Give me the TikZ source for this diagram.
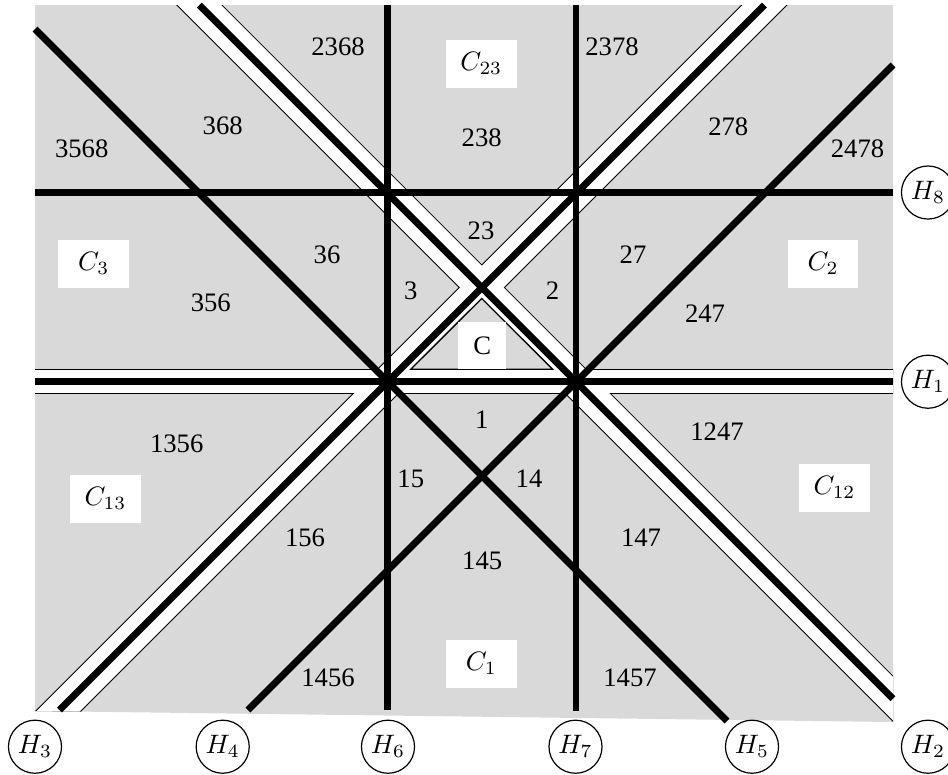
\documentclass[tikz,border=0pt]{standalone}
\usepackage{fontspec}
\setmainfont{Liberation Serif}
\usetikzlibrary{calc}
\definecolor{cellgray}{RGB}{217,217,217}
\begin{document}
\begin{tikzpicture}[x=0.375pt,y=-0.375pt,
  wall/.style={line width=2.6pt, line cap=butt},
  bandedge/.style={draw=black, line width=#1, line cap=butt, shorten <=-30pt, shorten >=-30pt},
  bandfill/.style={draw=white, line width=#1, line cap=butt, shorten <=-30pt, shorten >=-30pt},
  cbox/.style={fill=white, inner sep=0pt, minimum width=26.5pt, minimum height=17.9pt},
  sbox/.style={fill=white, inner sep=0pt, minimum width=17.9pt, minimum height=17.9pt},
  lab/.style={inner sep=0pt},
  hcirc/.style={draw, circle, line width=0.45pt, minimum size=19.9pt, inner sep=0pt}
]
\useasboundingbox (0,0) rectangle (948,774);
\clip (0,0) rectangle (948,774);

% frame corners
\coordinate (tl) at (35,5);
\coordinate (tr) at (893,5);
\coordinate (br) at (893,722);
\coordinate (bl) at (35,711);

% line end points
\coordinate (h1a) at (35,381.7);   \coordinate (h1b) at (893,381.7);
\coordinate (h8a) at (35,192.5);   \coordinate (h8b) at (893,192.5);
\coordinate (h6a) at (387.7,5);    \coordinate (h6b) at (387.7,710);
\coordinate (h7a) at (576,5);      \coordinate (h7b) at (576,710.5);
\coordinate (h3a) at (59.4,710);   \coordinate (h3b) at (764.4,5);
\coordinate (h2a) at (199.3,5);    \coordinate (h2b) at (893,698.7);
\coordinate (h4a) at (248,710);    \coordinate (h4b) at (893,65);
\coordinate (h5a) at (35,29);      \coordinate (h5b) at (727,721);

% chamber C
\coordinate (ca) at (410.7,369.3);
\coordinate (cb) at (552.7,369.3);
\coordinate (cc) at (481.7,298.5);

% gray background
\fill[cellgray] (tl) -- (tr) -- (br) -- (bl) -- cycle;

\begin{scope}
  \clip (tl) -- (tr) -- (br) -- (bl) -- cycle;
  % walls of C: bordered white bands
  \draw[bandedge=9.375pt] (h1a) -- (h1b);
  \draw[bandedge=12.3pt] (h3a) -- (h3b);
  \draw[bandedge=12.3pt] (h2a) -- (h2b);
  \draw[bandfill=8.625pt] (h1a) -- (h1b);
  \draw[bandfill=11.55pt] (h3a) -- (h3b);
  \draw[bandfill=11.55pt] (h2a) -- (h2b);
  % chamber C
  \draw[line width=0.5pt, fill=cellgray] (ca) -- (cb) -- (cc) -- cycle;
\end{scope}

% hyperplanes
\draw[wall] (h1a) -- (h1b);
\draw[wall] (h8a) -- (h8b);
\draw[wall] (h6a) -- (h6b);
\draw[wall] (h7a) -- (h7b);
\draw[wall] (h3a) -- (h3b);
\draw[wall] (h2a) -- (h2b);
\draw[wall] (h4a) -- (h4b);
\draw[wall] (h5a) -- (h5b);

% region labels
\node[lab] (l2368) at (338,47) {2368};
\node[cbox] (c23) at (481.3,63.8) {$C_{23}$};
\node[lab] (l2378) at (612,47) {2378};
\node[lab] (l3568) at (81.7,149) {3568};
\node[lab] (l368) at (222.7,126) {368};
\node[lab] (l238) at (481.7,137.5) {238};
\node[lab] (l278) at (728.3,126.7) {278};
\node[lab] (l2478) at (857.5,149) {2478};
\node[cbox] (c3) at (93.7,263.8) {$C_{3}$};
\node[lab] (l36) at (327,255) {36};
\node[lab] (l23) at (481,231) {23};
\node[lab] (l27) at (633,255) {27};
\node[cbox] (c2) at (823,263.8) {$C_{2}$};
\node[lab] (l3) at (410.8,291) {3};
\node[lab] (l2) at (552.5,291) {2};
\node[lab] (l356) at (210.8,302.5) {356};
\node[lab] (l247) at (705,314) {247};
\node[sbox] (c0) at (482.2,345.5) {C};
\node[lab] (l1356) at (176.7,443.3) {1356};
\node[lab] (l1) at (481.7,420) {1};
\node[lab] (l1247) at (717,431.8) {1247};
\node[cbox] (c13) at (105.5,498.8) {$C_{13}$};
\node[lab] (l15) at (410.8,478.8) {15};
\node[lab] (l14) at (529,478.8) {14};
\node[cbox] (c12) at (834.5,487.8) {$C_{12}$};
\node[lab] (l156) at (305,538) {156};
\node[lab] (l145) at (482.2,560.8) {145};
\node[lab] (l147) at (641,538) {147};
\node[lab] (l1456) at (328,677.5) {1456};
\node[cbox] (c1) at (481.3,663.8) {$C_{1}$};
\node[lab] (l1457) at (630,677.5) {1457};

% hyperplane names
\node[hcirc] (n8) at (928,192.5) {$H_8$};
\node[hcirc] (n1) at (928,381.7) {$H_1$};
\node[hcirc] (n3) at (35,746.7) {$H_3$};
\node[hcirc] (n4) at (222.7,746.7) {$H_4$};
\node[hcirc] (n6) at (388,746.7) {$H_6$};
\node[hcirc] (n7) at (575.5,746.7) {$H_7$};
\node[hcirc] (n5) at (752,746.7) {$H_5$};
\node[hcirc] (n2) at (928,746.7) {$H_2$};
\end{tikzpicture}
\end{document}
